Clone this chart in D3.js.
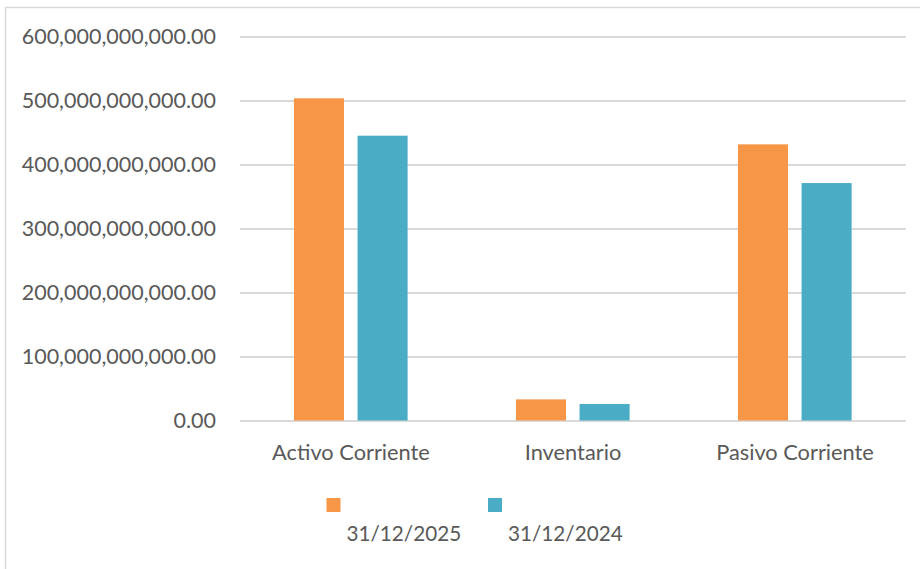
<!DOCTYPE html>
<html>
<head>
<meta charset="utf-8">
<script src="https://cdn.jsdelivr.net/npm/d3@7"></script>
<style>
  html, body { margin: 0; padding: 0; background: #fff; }
  svg { display: block; }
</style>
</head>
<body>
<div id="chart"></div>
<script>
// data
const categories = ['Activo Corriente', 'Inventario', 'Pasivo Corriente']
const seriesNames = ['31/12/2025', '31/12/2024']
const values2025 = [503.5e9, 33e9, 431.5e9]
const values2024 = [445e9, 25.8e9, 371e9]
const yTicks = [0, 100e9, 200e9, 300e9, 400e9, 500e9, 600e9]
const colors = ['#F79646', '#4BACC6']

const width = 920
const height = 569
const plot = { left: 240, right: 906, top: 36.5, bottom: 420.5 }

const svg = d3.select('#chart')
  .append('svg')
  .attr('width', width)
  .attr('height', height)
  .style('font-family', 'Lato, "Open Sans", sans-serif')

// chart area border (only top and left show inside the frame)
svg.append('rect')
  .attr('x', 5.5)
  .attr('y', 7.5)
  .attr('width', width)
  .attr('height', height)
  .attr('fill', '#fff')
  .attr('stroke', '#d9d9d9')
  .attr('stroke-width', 1.5)

const y = d3.scaleLinear()
  .domain([0, 600e9])
  .range([plot.bottom, plot.top])

const x0 = d3.scaleBand()
  .domain(categories)
  .range([plot.left, plot.right])

const bw = x0.bandwidth()
const x1 = d3.scaleBand()
  .domain(seriesNames)
  .range([bw * 0.243, bw * 0.755])
  .paddingInner(0.213)

const fmt = (v) => d3.format(',.2f')(v)

// gridlines + y labels
const yAxis = svg.append('g')
  .attr('transform', `translate(${plot.left},0)`)
  .call(d3.axisLeft(y).tickValues(yTicks).tickFormat(fmt).tickSize(-(plot.right - plot.left)).tickPadding(24))
yAxis.select('.domain').remove()
yAxis.selectAll('.tick line')
  .attr('stroke', '#d9d9d9')
  .attr('stroke-width', 2)
yAxis.selectAll('.tick text')
  .attr('fill', '#595959')
  .style('font-size', '21.5px')
  .style('font-family', 'Lato, "Open Sans", sans-serif')

const rows = categories.map((c, i) => ({ cat: c, vals: [values2025[i], values2024[i]] }))

const groups = svg.append('g')
  .selectAll('g')
  .data(rows)
  .join('g')
  .attr('transform', (d) => `translate(${x0(d.cat)},0)`)

groups.selectAll('rect')
  .data((d) => d.vals.map((v, i) => ({ name: seriesNames[i], v, i })))
  .join('rect')
  .attr('x', (d) => x1(d.name))
  .attr('y', (d) => y(d.v))
  .attr('width', x1.bandwidth())
  .attr('height', (d) => y(0) - y(d.v))
  .attr('fill', (d) => colors[d.i])

// category labels
svg.append('g')
  .selectAll('text')
  .data(categories)
  .join('text')
  .attr('x', (d) => x0(d) + bw / 2)
  .attr('y', 459.5)
  .attr('text-anchor', 'middle')
  .attr('fill', '#595959')
  .style('font-size', '21.8px')
  .text((d) => d)

// legend
const legendX = [326.5, 488]
const legend = svg.append('g')
  .selectAll('g')
  .data(seriesNames)
  .join('g')
  .attr('transform', (d, i) => `translate(${legendX[i]},498)`)

legend.append('rect')
  .attr('width', 14)
  .attr('height', 14)
  .attr('fill', (d, i) => colors[i])

legend.append('text')
  .attr('x', 20)
  .attr('y', 43)
  .attr('fill', '#595959')
  .style('font-size', '20.7px')
  .text((d) => d)
</script>
</body>
</html>
